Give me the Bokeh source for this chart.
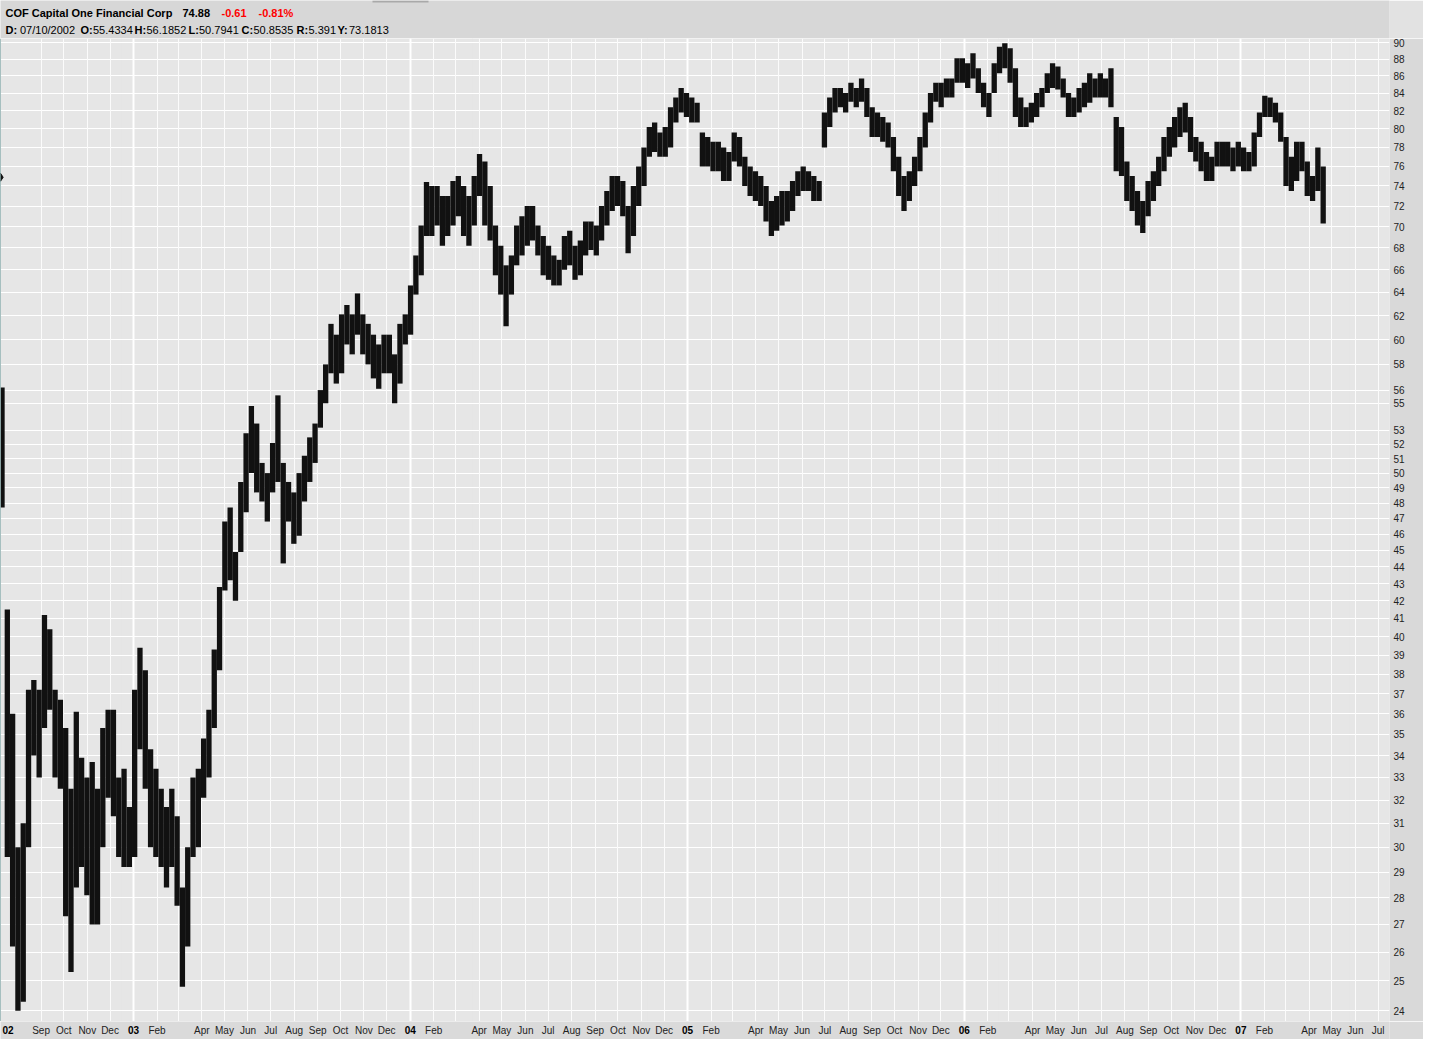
import pandas as pd
from bokeh.plotting import figure
from bokeh.layouts import column
from bokeh.models import Range1d, FixedTicker, Grid, ColumnDataSource, PrintfTickFormatter, Span
from bokeh.core.properties import value
from bokeh.embed import file_html
from bokeh.resources import INLINE

FONT = "Liberation Sans"

# ---- data (weekly high / low) ----
first_week = "2002-07-08"
week_high = [
    56.2, 41.5, 36.0, 30.0, 31.0, 37.2, 37.7, 37.2, 41.2, 40.4,
    37.2, 36.7, 35.3, 32.5, 36.1, 33.9, 33.0, 33.7, 32.5, 35.3,
    36.2, 36.2, 33.0, 33.4, 31.7, 37.2, 39.4, 38.2, 34.3, 33.4,
    32.5, 31.7, 32.5, 31.3, 28.4, 30.0, 33.0, 33.4, 34.8, 36.2,
    39.3, 42.8, 46.8, 47.7, 44.9, 49.4, 52.8, 54.8, 53.5, 50.7,
    50.0, 52.1, 55.6, 50.7, 49.4, 48.7, 50.0, 51.2, 52.5, 53.5,
    56.0, 58.0, 61.3, 60.4, 62.1, 62.9, 62.1, 63.9, 62.1, 61.3,
    60.4, 59.6, 60.4, 60.4, 58.8, 61.3, 62.1, 64.6, 67.3, 70.1,
    74.4, 74.0, 74.0, 73.0, 73.0, 74.5, 75.0, 74.0, 73.0, 75.0,
    77.3, 76.5, 74.0, 70.1, 68.2, 66.4, 67.3, 70.1, 71.0, 72.0,
    72.0, 70.1, 69.1, 68.2, 67.3, 66.9, 69.1, 69.6, 68.2, 68.7,
    70.5, 70.5, 70.1, 72.0, 73.5, 75.0, 75.0, 74.5, 72.0, 74.0,
    76.0, 78.0, 80.2, 80.7, 79.6, 80.2, 82.4, 83.5, 84.6, 84.0,
    83.5, 82.9, 79.6, 79.1, 78.6, 78.6, 78.0, 77.5, 79.6, 79.1,
    77.0, 76.0, 75.5, 75.0, 74.0, 72.5, 73.0, 73.5, 73.5, 74.5,
    75.5, 76.0, 75.5, 75.0, 74.5, 81.8, 83.5, 84.6, 84.6, 84.0,
    85.2, 84.6, 85.7, 84.6, 82.4, 81.8, 81.3, 80.7, 79.1, 77.0,
    75.0, 75.5, 77.0, 79.1, 81.8, 84.0, 85.2, 85.2, 85.7, 85.7,
    88.1, 88.1, 87.5, 88.7, 86.9, 85.2, 84.0, 87.5, 89.5, 89.9,
    89.3, 86.9, 83.5, 82.4, 82.9, 84.0, 84.6, 86.3, 87.5, 87.1,
    85.7, 84.0, 83.5, 84.6, 85.2, 86.3, 85.7, 86.3, 85.7, 86.9,
    81.3, 80.2, 76.5, 75.0, 73.5, 72.5, 74.5, 75.5, 77.0, 79.1,
    80.2, 81.3, 82.4, 82.9, 81.3, 79.1, 78.6, 77.5, 77.0, 78.6,
    78.6, 78.6, 78.0, 78.6, 78.0, 77.5, 79.6, 81.8, 83.7, 83.5,
    82.9, 81.8, 79.1, 77.0, 78.6, 78.6, 76.5, 75.0, 78.0, 76.0,
]
week_low = [
    47.7, 29.6, 26.2, 24.0, 24.3, 30.0, 34.0, 33.0, 35.3, 36.2,
    33.0, 32.5, 27.3, 25.3, 28.4, 29.2, 28.1, 27.0, 27.0, 30.0,
    32.1, 31.3, 29.6, 29.2, 29.2, 29.6, 34.3, 32.5, 30.0, 29.6,
    29.2, 28.4, 29.2, 27.7, 24.8, 26.2, 29.6, 30.0, 32.1, 33.0,
    35.3, 38.2, 42.6, 43.2, 42.0, 44.9, 47.4, 50.0, 48.7, 48.1,
    46.8, 48.7, 49.4, 44.2, 46.8, 45.4, 45.9, 48.1, 49.4, 50.7,
    53.2, 55.0, 57.3, 56.5, 57.3, 59.6, 58.8, 60.4, 58.8, 58.0,
    56.9, 56.1, 57.3, 57.3, 55.0, 56.5, 59.6, 60.4, 63.8, 65.5,
    69.1, 69.1, 70.1, 68.2, 69.1, 70.1, 71.0, 69.1, 68.2, 70.1,
    73.0, 70.1, 68.7, 65.5, 63.8, 61.1, 63.8, 66.4, 67.3, 68.2,
    68.7, 67.3, 65.5, 65.1, 64.6, 64.6, 66.0, 66.4, 65.1, 65.5,
    67.3, 67.8, 67.3, 68.7, 70.1, 71.5, 72.0, 71.0, 67.5, 69.1,
    72.0, 74.0, 77.0, 77.5, 77.0, 77.0, 78.0, 80.7, 81.8, 81.3,
    80.7, 80.7, 76.0, 76.0, 75.5, 75.5, 74.5, 74.5, 76.5, 76.0,
    74.0, 73.0, 72.5, 72.0, 70.5, 69.1, 69.6, 70.1, 70.5, 71.5,
    73.0, 73.5, 73.5, 72.5, 72.5, 78.0, 80.2, 81.8, 82.4, 81.8,
    83.0, 82.4, 83.0, 81.3, 79.1, 79.1, 78.6, 78.0, 75.5, 73.0,
    71.5, 72.5, 74.0, 75.5, 78.0, 80.7, 83.0, 82.4, 83.5, 83.5,
    85.2, 85.2, 84.6, 85.7, 84.0, 82.4, 81.3, 84.0, 86.3, 86.9,
    85.2, 81.3, 80.2, 80.2, 80.7, 81.3, 82.4, 84.0, 84.6, 84.4,
    83.5, 81.3, 81.3, 81.8, 82.4, 82.9, 83.5, 83.5, 83.5, 82.4,
    75.5, 75.0, 72.5, 71.5, 70.1, 69.4, 71.0, 72.5, 74.0, 75.5,
    77.0, 78.0, 79.1, 79.6, 77.5, 76.5, 75.5, 74.5, 74.5, 76.0,
    76.0, 76.0, 75.5, 76.0, 75.5, 75.5, 76.0, 79.1, 81.3, 81.3,
    80.7, 78.6, 74.0, 73.5, 74.5, 75.5, 73.0, 72.5, 73.5, 70.3,
]
last_price = 74.88
price_ticks = [24, 25, 26, 27, 28, 29, 30, 31, 32, 33, 34, 35, 36, 37, 38, 39,
               40, 41, 42, 43, 44, 45, 46, 47, 48, 49, 50, 51, 52, 53, 55, 56,
               58, 60, 62, 64, 66, 68, 70, 72, 74, 76, 78, 80, 82, 84, 86, 88, 90]
month_names = ["Jan", "Feb", "Mar", "Apr", "May", "Jun",
               "Jul", "Aug", "Sep", "Oct", "Nov", "Dec"]
first_year_label = "02"

# ---- layout constants ----
W, H = 1423, 1039
HDR_H, AX_H, RIGHT_W = 38, 18, 34
FW = W - RIGHT_W
FH = H - HDR_H - AX_H
DAY = 86400000.0
EPOCH = pd.Timestamp("1970-01-01")


def ms(t):
    return (pd.Timestamp(t) - EPOCH).total_seconds() * 1000.0


x0 = ms("2002-07-09 12:00")
x1 = ms("2007-07-16")

weeks = pd.date_range(first_week, periods=len(week_high), freq="7D")
src = ColumnDataSource(dict(
    mid=[ms(w) + 3.5 * DAY for w in weeks],
    high=week_high,
    low=week_low,
))

months = pd.date_range("2002-09-01", "2007-07-01", freq="MS")
month_ms = [ms(m) for m in months]
year_ms = [ms(m) for m in months if m.month == 1]

# ---- header ----
HDR_BG = "#d7d7d7"
hdr = figure(frame_width=FW, frame_height=HDR_H, x_range=Range1d(0, FW), y_range=Range1d(HDR_H, 0),
             toolbar_location=None, output_backend="svg", min_border=0, min_border_right=RIGHT_W,
             x_axis_location=None, y_axis_location=None,
             background_fill_color=HDR_BG, border_fill_color="#e2e2e2", outline_line_color=None)
hdr.grid.visible = False
hdr.quad(left=[372], right=[428], top=[0], bottom=[2], fill_color="#a9a9a9", line_color=None)
# (text, x, y, style, colour)
segments = [
    ("COF Capital One Financial Corp", 5, 12.5, "bold", "#000000"),
    ("74.88", 182, 12.5, "bold", "#000000"),
    ("-0.61", 221, 12.5, "bold", "#ff0000"),
    ("-0.81%", 258, 12.5, "bold", "#ff0000"),
    ("D:", 5, 29.5, "bold", "#000000"),
    ("07/10/2002", 19.5, 29.5, "normal", "#000000"),
    ("O:", 80, 29.5, "bold", "#000000"),
    ("55.4334", 92.5, 29.5, "normal", "#000000"),
    ("H:", 134, 29.5, "bold", "#000000"),
    ("56.1852", 146, 29.5, "normal", "#000000"),
    ("L:", 188, 29.5, "bold", "#000000"),
    ("50.7941", 198.5, 29.5, "normal", "#000000"),
    ("C:", 241, 29.5, "bold", "#000000"),
    ("50.8535", 253, 29.5, "normal", "#000000"),
    ("R:", 296, 29.5, "bold", "#000000"),
    ("5.391", 308, 29.5, "normal", "#000000"),
    ("Y:", 337, 29.5, "bold", "#000000"),
    ("73.1813", 348.5, 29.5, "normal", "#000000"),
]
hsrc = ColumnDataSource(dict(
    text=[s[0] for s in segments], x=[s[1] for s in segments], y=[s[2] for s in segments],
    style=[s[3] for s in segments], color=[s[4] for s in segments]))
hdr.text(x="x", y="y", text="text", source=hsrc, text_font=value(FONT),
         text_font_size="11px", text_font_style="style", text_color="color",
         text_align="left", text_baseline="middle")

# ---- main chart ----
p = figure(x_range=Range1d(x0, x1), y_range=Range1d(23.65, 90.5), y_axis_type="log",
           x_axis_location=None, y_axis_location="right",
           frame_width=FW, frame_height=FH, min_border=0, min_border_right=RIGHT_W,
           toolbar_location=None, output_backend="svg",
           background_fill_color="#e6e6e6", border_fill_color="#d9d9d9",
           outline_line_color=None)
p.yaxis.ticker = FixedTicker(ticks=price_ticks)
p.yaxis.formatter = PrintfTickFormatter(format="%d")
p.yaxis.major_tick_line_color = None
p.yaxis.minor_tick_line_color = None
p.yaxis.major_tick_out = 0
p.yaxis.major_tick_in = 0
p.yaxis.axis_line_color = None
p.yaxis.major_label_standoff = 4
p.yaxis.major_label_text_font = FONT
p.yaxis.major_label_text_font_size = "10px"
p.yaxis.major_label_text_color = "#222222"
p.ygrid.ticker = FixedTicker(ticks=price_ticks)
p.ygrid.grid_line_color = "white"
p.ygrid.grid_line_width = 1

p.add_layout(Grid(dimension=0, ticker=FixedTicker(ticks=month_ms),
                  grid_line_color="#fbfbfb", grid_line_width=1))
p.add_layout(Grid(dimension=0, ticker=FixedTicker(ticks=year_ms),
                  grid_line_color="#ffffff", grid_line_width=2))
p.add_layout(Span(location=x0, dimension="height", line_color="#5b8c8c", line_width=1))

p.vbar(x="mid", top="high", bottom="low", width=7 * DAY, source=src,
       fill_color="#111111", line_color=None)
p.scatter(x=[x0], y=[last_price], marker="diamond", size=8, color="#111111")

# ---- bottom date axis ----
AX_BG = "#dadada"
bot = figure(x_range=p.x_range, y_range=Range1d(AX_H, 0), frame_width=FW, frame_height=AX_H,
             min_border=0, min_border_right=RIGHT_W, x_axis_location=None, y_axis_location=None,
             toolbar_location=None, output_backend="svg",
             background_fill_color=AX_BG, border_fill_color=AX_BG, outline_line_color=None)
bot.grid.visible = False
mx, mt = [], []
yx, yt = [], []
for m in months:
    if m.month == 1:
        yx.append(ms(m))
        yt.append(f"{m.year % 100:02d}")
    elif m.month != 3:
        mx.append(ms(m))
        mt.append(month_names[m.month - 1])
bot.text(x=mx, y=[8.5] * len(mx), text=mt, text_font=value(FONT), text_font_size="10px",
         text_color="#222222", text_align="center", text_baseline="middle")
bot.text(x=yx, y=[8.5] * len(yx), text=yt, text_font=value(FONT), text_font_size="10px",
         text_font_style="bold", text_color="#000000", text_align="center", text_baseline="middle")
bot.text(x=[x0], y=[8.5], text=[first_year_label], text_font=value(FONT), text_font_size="10px",
         text_font_style="bold", text_color="#000000", text_align="left", text_baseline="middle",
         x_offset=2)

layout = column(hdr, p, bot, spacing=0)
open("out.html", "w").write(file_html(layout, INLINE))
